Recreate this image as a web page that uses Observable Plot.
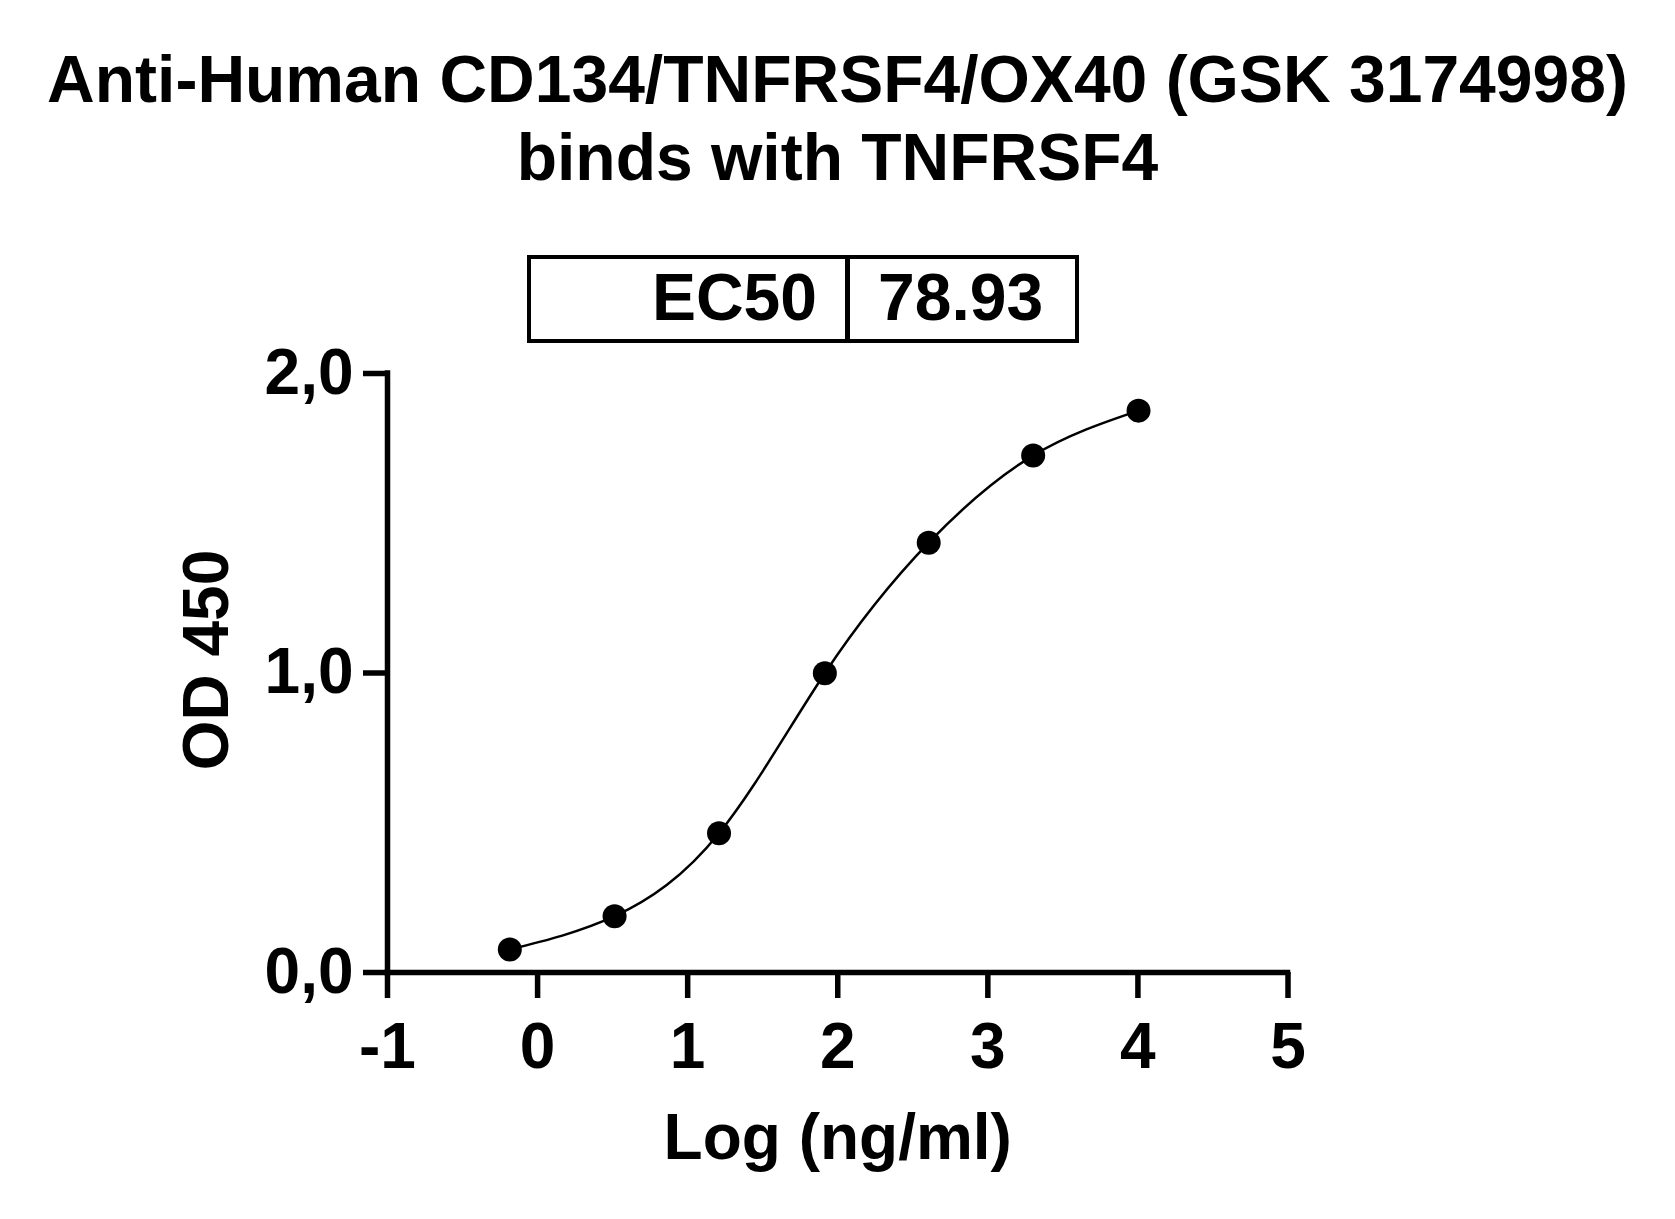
<!DOCTYPE html>
<html>
<head>
<meta charset="utf-8">
<script src="https://cdn.jsdelivr.net/npm/d3@7"></script>
<script src="https://cdn.jsdelivr.net/npm/@observablehq/plot@0.6"></script>
<style>
  body { margin: 0; background: #fff; }
  #wrap { position: relative; width: 1675px; height: 1219px; font-family: "Liberation Sans", Arial, sans-serif; font-weight: bold; color: #000; background: #fff; }
  #header { position: relative; width: 1675px; height: 345px; }
  .t { position: absolute; left: 0; width: 1675px; text-align: center; font-size: 66px; line-height: 66px; white-space: nowrap; }
  #box { position: absolute; left: 527px; top: 255px; width: 552px; height: 88px; border: 4.5px solid #000; box-sizing: border-box; }
  #divider { position: absolute; left: 845px; top: 255px; width: 4.5px; height: 88px; background: #000; }
  .cell { position: absolute; top: 264px; font-size: 66px; line-height: 66px; white-space: nowrap; }
  #chart svg { display: block; }
</style>
</head>
<body>
<div id="wrap">
  <div id="header">
    <div class="t" id="title1" style="top:46px"></div>
    <div class="t" id="title2" style="top:124px"></div>
    <div id="box"></div>
    <div id="divider"></div>
    <div class="cell" id="ecLabel" style="right:858px"></div>
    <div class="cell" id="ecValue" style="left:878px"></div>
  </div>
  <div id="chart"></div>
</div>
<script>
// ---- data ----
const titleLines = ["Anti-Human CD134/TNFRSF4/OX40 (GSK 3174998)", "binds with TNFRSF4"];
const tableLabel = "EC50";
const tableValue = "78.93";
const logConc = [-0.185, 0.513, 1.209, 1.914, 2.606, 3.302, 4.004];
const od450 = [0.077, 0.188, 0.465, 0.999, 1.435, 1.726, 1.876];
const xTicks = [-1, 0, 1, 2, 3, 4, 5];
const xTickLabels = ["-1", "0", "1", "2", "3", "4", "5"];
const yTicks = [0, 1, 2];
const yTickLabels = ["0,0", "1,0", "2,0"];
const xLabel = "Log (ng/ml)";
const yLabel = "OD 450";

document.getElementById("title1").textContent = titleLines[0];
document.getElementById("title2").textContent = titleLines[1];
document.getElementById("ecLabel").textContent = tableLabel;
document.getElementById("ecValue").textContent = tableValue;

const points = logConc.map((x, i) => ({x, y: od450[i]}));
const font = "'Liberation Sans', Arial, sans-serif";

const chart = Plot.plot({
  width: 1675,
  height: 874,
  marginLeft: 387,
  marginRight: 387.5,
  marginTop: 28,
  marginBottom: 247,
  x: {domain: [-1, 5]},
  y: {domain: [0, 2]},
  style: {fontFamily: font, fontWeight: "bold", fontSize: "64px", color: "#000", background: "#fff", overflow: "visible"},
  marks: [
    Plot.axisX(xTicks, {
      tickSize: 26, tickPadding: 24, strokeWidth: 5.5, fontSize: 64, fontWeight: "bold",
      tickFormat: d => xTickLabels[xTicks.indexOf(d)], label: null
    }),
    Plot.axisY(yTicks, {
      tickSize: 24, tickPadding: 10, strokeWidth: 5.5, fontSize: 64, fontWeight: "bold",
      tickFormat: d => yTickLabels[yTicks.indexOf(d)], label: null
    }),
    Plot.ruleX([-1], {y1: 0, y2: 2, stroke: "#000", strokeWidth: 5.5, strokeLinecap: "square"}),
    Plot.ruleY([0], {x1: -1, x2: 5, stroke: "#000", strokeWidth: 5.5, strokeLinecap: "square"}),
    Plot.line(points, {x: "x", y: "y", curve: "natural", stroke: "#000", strokeWidth: 2.5}),
    Plot.dot(points, {x: "x", y: "y", r: 12, fill: "#000", stroke: "none"}),
    Plot.text([yLabel], {
      frameAnchor: "left", rotate: -90, dx: -180, dy: -13,
      fontSize: 64, fontWeight: "bold", textAnchor: "middle", lineAnchor: "middle", fill: "#000"
    }),
    Plot.text([xLabel], {
      frameAnchor: "bottom", dy: 166.5,
      fontSize: 64, fontWeight: "bold", textAnchor: "middle", lineAnchor: "middle", fill: "#000"
    })
  ]
});
document.getElementById("chart").appendChild(chart);
</script>
</body>
</html>
